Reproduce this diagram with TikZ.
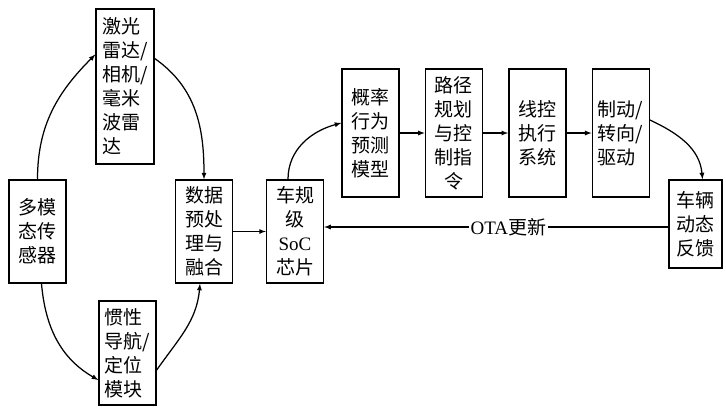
\documentclass[tikz,border=0pt]{standalone}
\usepackage{fontspec}
\setmainfont{Liberation Serif}
\newfontfamily\cjk{Noto Sans CJK SC}
\usetikzlibrary{arrows,chains,positioning}
\tikzset{blk/.style={draw, line width=1.4pt, rectangle, minimum width=57pt, inner sep=2pt, text=black, font=\cjk\fontsize{19}{24}\selectfont}, link/.style={->, >=latex, line width=1.25pt}}

\begin{document}
\begin{tikzpicture}[x=1pt, y=-1pt, node distance=25pt]
    \useasboundingbox (0,0) rectangle (726,408);
    \node[blk, minimum height=103pt, align=center] (sensor) at (37.5,231.5) {多模\\态传\\感器};
    \node[blk, minimum width=58pt, minimum height=155pt, align=left] (lidar) at (125,86.5) {激光\\雷达/\\相机/\\毫米\\波雷\\达};
    \node[blk, minimum height=104pt, align=left] (imu) at (127.5,353) {惯性\\导航/\\定位\\模块};
    \node[blk, minimum height=103pt, align=center] (fusion) at (204,231.5) {数据\\预处\\理与\\融合};
    \node[blk, minimum height=103pt, align=center] (soc) at (295,231.5) {车规\\级\\{\rmfamily SoC}\\芯片};
    \begin{scope}[start chain=going right]
    \node[blk, minimum height=128pt, align=center, on chain] (predict) at (370.5,133) {概率\\行为\\预测\\模型};
    \node[blk, minimum height=128pt, align=center, on chain] (plan) {路径\\规划\\与控\\制指\\令};
    \node[blk, minimum height=128pt, align=center, on chain] (wire) {线控\\执行\\系统};
    \node[blk, minimum height=128pt, align=left, on chain] (actuate) {制动/\\转向/\\驱动};
    \end{scope}
    \node[blk, minimum width=53pt, minimum height=88pt, align=center] (feedback) at (695.5,224) {车辆\\动态\\反馈};

    \draw[link] (sensor.north) to[out=90, in=225] ([yshift=32pt]lidar.west);
    \draw[link] ([yshift=28pt]lidar.east) to[out=-35, in=90] (fusion.north);
    \draw[link] ([xshift=4pt]sensor.south) to[out=-85, in=150] ([yshift=-27pt]imu.west);
    \draw[link] ([yshift=-17pt]imu.east) to[out=55, in=-95] ([xshift=-4pt]fusion.south);
    \draw[link] (fusion.east) -- (soc.west);
    \draw[link] ([xshift=-7pt]soc.north) to[out=90, in=195] ([yshift=10pt]predict.west);
    \draw[link] (predict.east) -- (plan.west);
    \draw[link] (plan.east) -- (wire.west);
    \draw[link] (wire.east) -- (actuate.west);
    \draw[link] ([yshift=13pt]actuate.east) to[out=-25, in=95] ([xshift=7pt]feedback.north);
    \draw[link] ([yshift=-3pt]feedback.west) -- node[fill=white, inner sep=2pt, pos=0.465, font=\cjk\fontsize{19}{24}\selectfont] (ota) {{\rmfamily OTA}更新} ([yshift=4.5pt]soc.east);
\end{tikzpicture}
\end{document}
